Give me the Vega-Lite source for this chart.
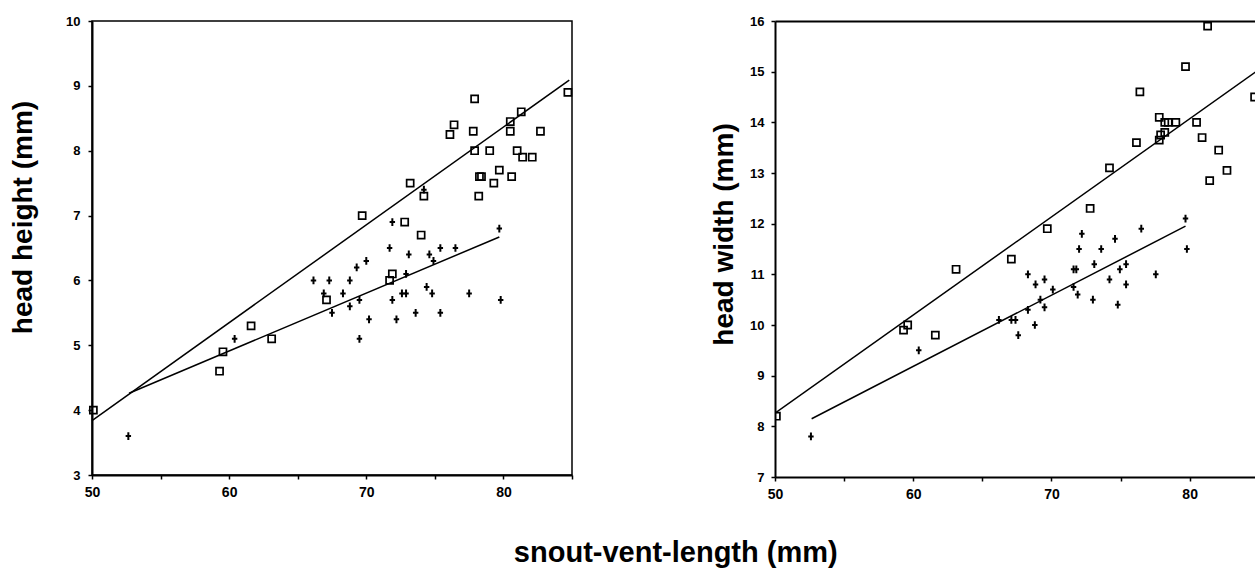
{
  "$schema": "https://vega.github.io/schema/vega-lite/v6.json",
  "background": "white",
  "padding": {"left": 8, "top": 14, "right": 0, "bottom": 2},
  "config": {
    "font": "Liberation Sans",
    "view": {"stroke": "black", "strokeWidth": 1.5},
    "axis": {"domainColor": "black", "domainWidth": 2, "tickColor": "black", "tickWidth": 1.5, "tickSize": 4, "labelColor": "black", "labelFontWeight": "bold", "labelFontSize": 13, "labelFont": "Liberation Sans", "titleFont": "Liberation Sans", "titleFontWeight": "bold", "titleFontSize": 28, "titleColor": "black", "grid": false, "labelFlush": false, "labelOverlap": false},
    "axisX": {"labelPadding": 6, "labelFontSize": 14},
    "axisY": {"labelPadding": 8}
  },
  "title": {"text": "snout-vent-length (mm)", "orient": "bottom", "anchor": "middle", "fontSize": 29, "fontWeight": "bold", "font": "Liberation Sans", "color": "black", "offset": 38, "dx": 42},
  "datasets": {
    "hh": [
      {"svl": 84.7, "v": 8.9, "g": "sq"}, {"svl": 77.9, "v": 8.8, "g": "sq"}, {"svl": 81.3, "v": 8.6, "g": "sq"},
      {"svl": 76.4, "v": 8.4, "g": "sq"}, {"svl": 76.1, "v": 8.25, "g": "sq"}, {"svl": 77.8, "v": 8.3, "g": "sq"},
      {"svl": 80.5, "v": 8.45, "g": "sq"}, {"svl": 80.5, "v": 8.3, "g": "sq"}, {"svl": 82.7, "v": 8.3, "g": "sq"},
      {"svl": 77.9, "v": 8.0, "g": "sq"}, {"svl": 79.0, "v": 8.0, "g": "sq"}, {"svl": 81.0, "v": 8.0, "g": "sq"},
      {"svl": 81.4, "v": 7.9, "g": "sq"}, {"svl": 82.1, "v": 7.9, "g": "sq"}, {"svl": 79.7, "v": 7.7, "g": "sq"},
      {"svl": 80.6, "v": 7.6, "g": "sq"}, {"svl": 78.25, "v": 7.6, "g": "sq"}, {"svl": 78.4, "v": 7.6, "g": "sq"},
      {"svl": 79.3, "v": 7.5, "g": "sq"}, {"svl": 78.2, "v": 7.3, "g": "sq"}, {"svl": 73.2, "v": 7.5, "g": "sq"},
      {"svl": 74.2, "v": 7.3, "g": "sq"}, {"svl": 69.7, "v": 7.0, "g": "sq"}, {"svl": 72.8, "v": 6.9, "g": "sq"},
      {"svl": 74.0, "v": 6.7, "g": "sq"}, {"svl": 71.9, "v": 6.1, "g": "sq"}, {"svl": 71.7, "v": 6.0, "g": "sq"},
      {"svl": 67.1, "v": 5.7, "g": "sq"}, {"svl": 61.6, "v": 5.3, "g": "sq"}, {"svl": 63.1, "v": 5.1, "g": "sq"},
      {"svl": 59.55, "v": 4.9, "g": "sq"}, {"svl": 59.3, "v": 4.6, "g": "sq"}, {"svl": 50.1, "v": 4.0, "g": "sq"},
      {"svl": 74.2, "v": 7.4, "g": "pl"}, {"svl": 71.9, "v": 6.9, "g": "pl"}, {"svl": 79.7, "v": 6.8, "g": "pl"},
      {"svl": 71.7, "v": 6.5, "g": "pl"}, {"svl": 73.1, "v": 6.4, "g": "pl"}, {"svl": 74.6, "v": 6.4, "g": "pl"},
      {"svl": 75.4, "v": 6.5, "g": "pl"}, {"svl": 76.5, "v": 6.5, "g": "pl"}, {"svl": 74.9, "v": 6.3, "g": "pl"},
      {"svl": 70.0, "v": 6.3, "g": "pl"}, {"svl": 69.3, "v": 6.2, "g": "pl"}, {"svl": 72.9, "v": 6.1, "g": "pl"},
      {"svl": 66.15, "v": 6.0, "g": "pl"}, {"svl": 67.3, "v": 6.0, "g": "pl"}, {"svl": 68.8, "v": 6.0, "g": "pl"},
      {"svl": 66.9, "v": 5.8, "g": "pl"}, {"svl": 68.3, "v": 5.8, "g": "pl"}, {"svl": 72.6, "v": 5.8, "g": "pl"},
      {"svl": 72.9, "v": 5.8, "g": "pl"}, {"svl": 74.4, "v": 5.9, "g": "pl"}, {"svl": 74.8, "v": 5.8, "g": "pl"},
      {"svl": 77.5, "v": 5.8, "g": "pl"}, {"svl": 69.5, "v": 5.7, "g": "pl"}, {"svl": 71.9, "v": 5.7, "g": "pl"},
      {"svl": 79.8, "v": 5.7, "g": "pl"}, {"svl": 68.8, "v": 5.6, "g": "pl"}, {"svl": 67.5, "v": 5.5, "g": "pl"},
      {"svl": 73.6, "v": 5.5, "g": "pl"}, {"svl": 75.4, "v": 5.5, "g": "pl"}, {"svl": 70.2, "v": 5.4, "g": "pl"},
      {"svl": 72.2, "v": 5.4, "g": "pl"}, {"svl": 69.5, "v": 5.1, "g": "pl"}, {"svl": 60.4, "v": 5.1, "g": "pl"},
      {"svl": 52.65, "v": 3.6, "g": "pl"}
    ],
    "hw": [
      {"svl": 81.3, "v": 15.9, "g": "sq"}, {"svl": 79.7, "v": 15.1, "g": "sq"}, {"svl": 76.4, "v": 14.6, "g": "sq"},
      {"svl": 84.7, "v": 14.5, "g": "sq"}, {"svl": 77.8, "v": 14.1, "g": "sq"}, {"svl": 78.2, "v": 14.0, "g": "sq"},
      {"svl": 78.45, "v": 14.0, "g": "sq"}, {"svl": 79.0, "v": 14.0, "g": "sq"}, {"svl": 80.5, "v": 14.0, "g": "sq"},
      {"svl": 78.2, "v": 13.8, "g": "sq"}, {"svl": 77.9, "v": 13.75, "g": "sq"}, {"svl": 77.8, "v": 13.65, "g": "sq"},
      {"svl": 80.9, "v": 13.7, "g": "sq"}, {"svl": 76.15, "v": 13.6, "g": "sq"}, {"svl": 82.1, "v": 13.45, "g": "sq"},
      {"svl": 82.7, "v": 13.05, "g": "sq"}, {"svl": 81.45, "v": 12.85, "g": "sq"}, {"svl": 74.2, "v": 13.1, "g": "sq"},
      {"svl": 72.8, "v": 12.3, "g": "sq"}, {"svl": 69.7, "v": 11.9, "g": "sq"}, {"svl": 67.1, "v": 11.3, "g": "sq"},
      {"svl": 63.1, "v": 11.1, "g": "sq"}, {"svl": 59.3, "v": 9.9, "g": "sq"}, {"svl": 59.6, "v": 10.0, "g": "sq"},
      {"svl": 61.6, "v": 9.8, "g": "sq"}, {"svl": 50.1, "v": 8.2, "g": "sq"},
      {"svl": 79.7, "v": 12.1, "g": "pl"}, {"svl": 79.8, "v": 11.5, "g": "pl"}, {"svl": 76.5, "v": 11.9, "g": "pl"},
      {"svl": 74.6, "v": 11.7, "g": "pl"}, {"svl": 72.2, "v": 11.8, "g": "pl"}, {"svl": 72.0, "v": 11.5, "g": "pl"},
      {"svl": 73.6, "v": 11.5, "g": "pl"}, {"svl": 73.1, "v": 11.2, "g": "pl"}, {"svl": 71.8, "v": 11.1, "g": "pl"},
      {"svl": 71.6, "v": 11.1, "g": "pl"}, {"svl": 75.4, "v": 11.2, "g": "pl"}, {"svl": 74.95, "v": 11.1, "g": "pl"},
      {"svl": 77.55, "v": 11.0, "g": "pl"}, {"svl": 74.2, "v": 10.9, "g": "pl"}, {"svl": 75.4, "v": 10.8, "g": "pl"},
      {"svl": 68.3, "v": 11.0, "g": "pl"}, {"svl": 69.5, "v": 10.9, "g": "pl"}, {"svl": 68.85, "v": 10.8, "g": "pl"},
      {"svl": 70.1, "v": 10.7, "g": "pl"}, {"svl": 71.6, "v": 10.75, "g": "pl"}, {"svl": 71.9, "v": 10.6, "g": "pl"},
      {"svl": 73.0, "v": 10.5, "g": "pl"}, {"svl": 74.8, "v": 10.4, "g": "pl"}, {"svl": 69.2, "v": 10.5, "g": "pl"},
      {"svl": 69.5, "v": 10.35, "g": "pl"}, {"svl": 68.3, "v": 10.3, "g": "pl"}, {"svl": 68.8, "v": 10.0, "g": "pl"},
      {"svl": 66.2, "v": 10.1, "g": "pl"}, {"svl": 67.1, "v": 10.1, "g": "pl"}, {"svl": 67.4, "v": 10.1, "g": "pl"},
      {"svl": 67.6, "v": 9.8, "g": "pl"}, {"svl": 60.4, "v": 9.5, "g": "pl"}, {"svl": 52.6, "v": 7.8, "g": "pl"}
    ],
    "fitL": [
      {"svl": 50.0, "v": 3.84, "g": "sq"}, {"svl": 84.8, "v": 9.09, "g": "sq"},
      {"svl": 52.7, "v": 4.26, "g": "pl"}, {"svl": 79.7, "v": 6.67, "g": "pl"}
    ],
    "fitR": [
      {"svl": 50.0, "v": 8.26, "g": "sq"}, {"svl": 84.8, "v": 15.0, "g": "sq"},
      {"svl": 52.65, "v": 8.15, "g": "pl"}, {"svl": 79.7, "v": 11.95, "g": "pl"}
    ]
  },
  "spacing": 134,
  "hconcat": [
    {
      "width": 480,
      "height": 454,
      "view": {"stroke": "black", "strokeWidth": 1.5},
      "layer": [
        {
          "data": {"name": "hh"},
          "transform": [{"filter": "datum.g == 'sq'"}],
          "mark": {"type": "point", "shape": "square", "filled": false, "stroke": "black", "strokeWidth": 1.7, "size": 50, "opacity": 1},
          "encoding": {
            "x": {"field": "svl", "type": "quantitative", "scale": {"domain": [50, 85], "nice": false, "zero": false},
                  "axis": {"values": [50, 55, 60, 65, 70, 75, 80, 85], "labelExpr": "datum.value % 10 === 0 ? datum.label : ''", "title": null}},
            "y": {"field": "v", "type": "quantitative", "scale": {"domain": [3, 10], "nice": false, "zero": false},
                  "axis": {"values": [3, 4, 5, 6, 7, 8, 9, 10], "title": "head height (mm)", "titlePadding": 28, "titleY": 196}}
          }
        },
        {
          "data": {"name": "hh"},
          "transform": [{"filter": "datum.g == 'pl'"}],
          "mark": {"type": "point", "shape": "M-0.7,0L0.7,0M0,-1L0,1", "filled": false, "stroke": "black", "strokeWidth": 2, "size": 60, "opacity": 1},
          "encoding": {
            "x": {"field": "svl", "type": "quantitative", "axis": {"values": [50, 55, 60, 65, 70, 75, 80, 85], "labelExpr": "datum.value % 10 === 0 ? datum.label : ''", "title": null}},
            "y": {"field": "v", "type": "quantitative", "axis": {"values": [3, 4, 5, 6, 7, 8, 9, 10], "title": "head height (mm)", "titlePadding": 28, "titleY": 196}}
          }
        },
        {
          "data": {"name": "fitL"},
          "mark": {"type": "line", "color": "black", "strokeWidth": 1.5},
          "encoding": {
            "x": {"field": "svl", "type": "quantitative", "axis": {"values": [50, 55, 60, 65, 70, 75, 80, 85], "labelExpr": "datum.value % 10 === 0 ? datum.label : ''", "title": null}},
            "y": {"field": "v", "type": "quantitative", "axis": {"values": [3, 4, 5, 6, 7, 8, 9, 10], "title": "head height (mm)", "titlePadding": 28, "titleY": 196}},
            "detail": {"field": "g"}
          }
        }
      ]
    },
    {
      "width": 481,
      "height": 456,
      "view": {"stroke": null},
      "resolve": {"axis": {"x": "independent"}},
      "layer": [
        {
          "data": {"name": "hw"},
          "transform": [{"filter": "datum.g == 'sq'"}],
          "mark": {"type": "point", "shape": "square", "filled": false, "stroke": "black", "strokeWidth": 1.7, "size": 50, "opacity": 1, "clip": true},
          "encoding": {
            "x": {"field": "svl", "type": "quantitative", "scale": {"domain": [50, 84.8], "nice": false, "zero": false},
                  "axis": {"values": [50, 55, 60, 65, 70, 75, 80], "labelExpr": "datum.value % 10 === 0 ? datum.label : ''", "title": null}},
            "y": {"field": "v", "type": "quantitative", "scale": {"domain": [7, 16], "nice": false, "zero": false},
                  "axis": {"values": [7, 8, 9, 10, 11, 12, 13, 14, 15, 16], "title": "head width (mm)", "titlePadding": 11, "titleY": 213, "labelPadding": 7}}
          }
        },
        {
          "data": {"name": "hw"},
          "transform": [{"filter": "datum.g == 'pl'"}],
          "mark": {"type": "point", "shape": "M-0.7,0L0.7,0M0,-1L0,1", "filled": false, "stroke": "black", "strokeWidth": 2, "size": 60, "opacity": 1, "clip": true},
          "encoding": {
            "x": {"field": "svl", "type": "quantitative", "axis": null},
            "y": {"field": "v", "type": "quantitative", "axis": {"values": [7, 8, 9, 10, 11, 12, 13, 14, 15, 16], "title": "head width (mm)", "titlePadding": 11, "titleY": 213, "labelPadding": 7}}
          }
        },
        {
          "data": {"name": "fitR"},
          "mark": {"type": "line", "color": "black", "strokeWidth": 1.5, "clip": true},
          "encoding": {
            "x": {"field": "svl", "type": "quantitative", "axis": null},
            "y": {"field": "v", "type": "quantitative", "axis": {"values": [7, 8, 9, 10, 11, 12, 13, 14, 15, 16], "title": "head width (mm)", "titlePadding": 11, "titleY": 213, "labelPadding": 7}},
            "detail": {"field": "g"}
          }
        },
        {
          "data": {"name": "fitR"},
          "mark": {"type": "point", "opacity": 0},
          "encoding": {
            "x": {"field": "svl", "type": "quantitative", "axis": {"orient": "top", "labels": false, "ticks": false, "title": null, "domain": true}},
            "y": {"field": "v", "type": "quantitative", "axis": {"values": [7, 8, 9, 10, 11, 12, 13, 14, 15, 16], "title": "head width (mm)", "titlePadding": 11, "titleY": 213, "labelPadding": 7}}
          }
        }
      ]
    }
  ]
}
